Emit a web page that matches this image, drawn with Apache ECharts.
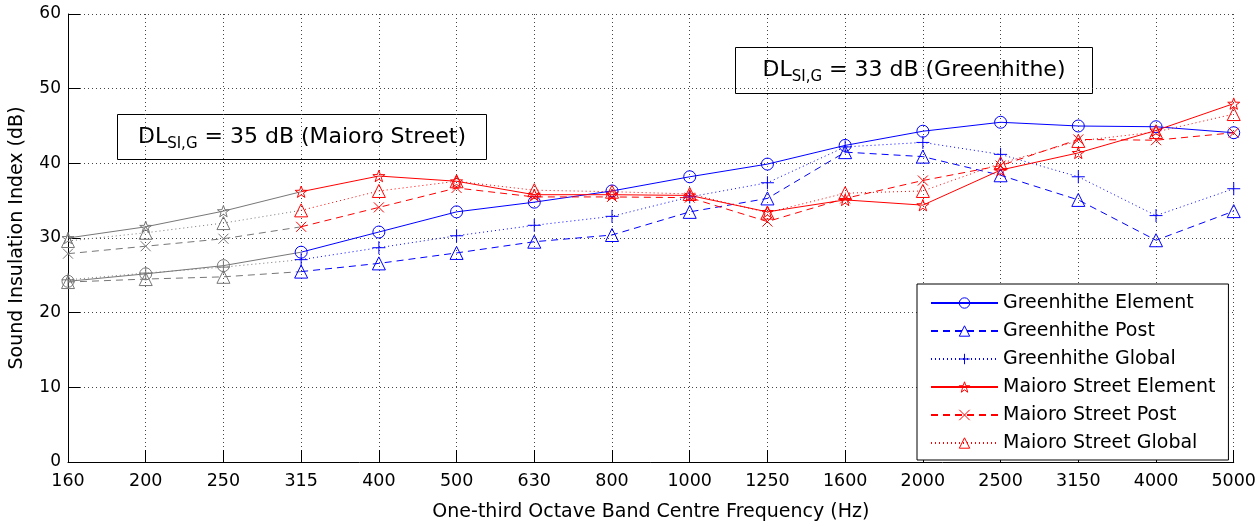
<!DOCTYPE html>
<html><head><meta charset="utf-8">
<script src="https://cdn.jsdelivr.net/npm/echarts@6/dist/echarts.min.js"></script>
<style>html,body{margin:0;padding:0;background:#fff}#c{width:1259px;height:527px}</style>
</head><body><div id="c"></div>
<script>
const frequencies = ['160','200','250','315','400','500','630','800','1000','1250','1600','2000','2500','3150','4000','5000'];
const greenhitheElement = [24.2, 25.2, 26.3, 28.1, 30.8, 33.5, 34.8, 36.3, 38.2, 39.9, 42.4, 44.3, 45.5, 45.0, 44.9, 44.1];
const greenhithePost    = [24.1, 24.5, 24.8, 25.5, 26.6, 28.0, 29.5, 30.4, 33.5, 35.3, 41.5, 40.9, 38.4, 35.1, 29.7, 33.6];
const greenhitheGlobal  = [24.4, 25.3, 26.1, 27.1, 28.7, 30.3, 31.7, 32.9, 35.5, 37.4, 42.2, 42.8, 41.2, 38.2, 33.0, 36.6];
const maioroElement     = [30.0, 31.5, 33.6, 36.2, 38.3, 37.6, 35.8, 35.8, 35.7, 33.5, 35.1, 34.4, 39.1, 41.4, 44.4, 48.0];
const maioroPost        = [27.9, 28.9, 29.9, 31.5, 34.1, 36.7, 35.5, 35.5, 35.4, 32.2, 35.3, 37.7, 39.7, 43.2, 43.1, 44.1];
const maioroGlobal      = [29.6, 30.7, 32.0, 33.7, 36.3, 37.6, 36.4, 36.2, 35.9, 33.4, 36.0, 36.3, 40.0, 43.0, 44.2, 46.6];
const seriesNames = ['Greenhithe Element','Greenhithe Post','Greenhithe Global','Maioro Street Element','Maioro Street Post','Maioro Street Global'];
const greyUntil = 3; // index of first coloured point (315 Hz)

const FONT = 'DejaVu Sans';
const BLUE = '#0000ff', RED = '#ff0000', GREY = '#777777';
const DASH = [7, 5], DOT = [1, 3];

// star outline path
let starPath = 'path://';
for (let k = 0; k < 10; k++) {
  const r = k % 2 === 0 ? 10 : 4;
  const a = -Math.PI / 2 + k * Math.PI / 5;
  starPath += (k === 0 ? 'M' : 'L') + (10 + r * Math.cos(a)).toFixed(2) + ',' + (10 + r * Math.sin(a)).toFixed(2);
}
starPath += 'Z';
const plusPath = 'path://M5,0L5,10M0,5L10,5';
const crossPath = 'path://M0,0L10,10M0,10L10,0';

const styles = [
  {values: greenhitheElement, color: BLUE, type: 'solid', symbol: 'circle', size: 12},
  {values: greenhithePost, color: BLUE, type: DASH, symbol: 'triangle', size: 13},
  {values: greenhitheGlobal, color: BLUE, type: DOT, symbol: plusPath, size: 13},
  {values: maioroElement, color: RED, type: 'solid', symbol: starPath, size: 12},
  {values: maioroPost, color: RED, type: DASH, symbol: crossPath, size: 10},
  {values: maioroGlobal, color: RED, type: DOT, symbol: 'triangle', size: 13}
];

const series = [];
styles.forEach((s, idx) => {
  const greyData = s.values.map((v, i) => i < greyUntil ? v : (i === greyUntil ? {value: v, symbol: 'none'} : '-'));
  const colData = s.values.map((v, i) => i < greyUntil ? '-' : v);
  series.push({
    name: seriesNames[idx] + ' (grey)', type: 'line', data: greyData, z: 2,
    symbol: s.symbol, symbolSize: s.size, showAllSymbol: true, symbolKeepAspect: true,
    lineStyle: {color: GREY, width: 1, type: s.type},
    itemStyle: {color: 'rgba(0,0,0,0)', borderColor: GREY, borderWidth: 1},
    emphasis: {disabled: true}, silent: true
  });
  series.push({
    name: seriesNames[idx], type: 'line', data: colData, z: 3,
    symbol: s.symbol, symbolSize: s.size, showAllSymbol: true, symbolKeepAspect: true,
    lineStyle: {color: s.color, width: 1, type: s.type},
    itemStyle: {color: 'rgba(0,0,0,0)', borderColor: s.color, borderWidth: 1},
    emphasis: {disabled: true}, silent: true
  });
});

function annotation(left, top, w, h, value, site) {
  return {
    type: 'group', left: left, top: top, z: 100,
    children: [
      {type: 'rect', shape: {x: 0, y: 0, width: w, height: h}, style: {fill: '#fff', stroke: '#000', lineWidth: 1}},
      {type: 'text', x: w / 2, y: h / 2, style: {
        text: '{m|DL}{s|SI,G}{m| = ' + value + ' dB (' + site + ')}',
        align: 'center', verticalAlign: 'middle',
        rich: {
          m: {fontFamily: FONT, fontSize: 22, fill: '#000', lineHeight: 26},
          s: {fontFamily: FONT, fontSize: 15, fill: '#000', padding: [14, 0, 0, 0]}
        }
      }}
    ]
  };
}

const chart = echarts.init(document.getElementById('c'), null, {renderer: 'canvas'});
chart.setOption({
  animation: false,
  backgroundColor: '#fff',
  grid: {left: 62, right: 21, top: 14, bottom: 59, containLabel: false},
  xAxis: {
    type: 'category', data: frequencies, boundaryGap: false,
    name: 'One-third Octave Band Centre Frequency (Hz)', nameLocation: 'middle', nameGap: 41,
    nameTextStyle: {fontFamily: FONT, fontSize: 19, color: '#000'},
    axisLine: {lineStyle: {color: '#000', width: 1}},
    axisTick: {inside: true, length: 12, lineStyle: {color: '#000'}},
    axisLabel: {interval: 0, margin: 10, fontFamily: FONT, fontSize: 17.5, color: '#000'},
    splitLine: {show: true, lineStyle: {color: '#444', width: 1, type: [1, 3]}}
  },
  yAxis: {
    type: 'value', min: 0, max: 60, interval: 10,
    name: 'Sound Insulation Index (dB)', nameLocation: 'middle', nameGap: 41,
    nameTextStyle: {fontFamily: FONT, fontSize: 19, color: '#000'},
    axisLine: {show: true, lineStyle: {color: '#000', width: 1}},
    axisTick: {show: true, inside: true, length: 12, lineStyle: {color: '#000'}},
    axisLabel: {margin: 7, fontFamily: FONT, fontSize: 17, color: '#000'},
    splitLine: {show: true, lineStyle: {color: '#444', width: 1, type: [1, 3]}}
  },
  legend: {
    data: seriesNames, orient: 'vertical', left: 917, top: 284,
    padding: [8, 13, 6, 13], itemGap: 6, itemWidth: 67, itemHeight: 13,
    backgroundColor: '#fff', borderColor: '#000', borderWidth: 1, borderRadius: 0,
    selectedMode: false,
    itemStyle: {color: 'rgba(0,0,0,0)', borderWidth: 1},
    textStyle: {fontFamily: FONT, fontSize: 19, color: '#000', lineHeight: 22}
  },
  graphic: [
    annotation(117, 114, 369, 45, 35, 'Maioro Street'),
    annotation(735, 47, 357, 46, 33, 'Greenhithe')
  ],
  series: series
});
</script></body></html>
